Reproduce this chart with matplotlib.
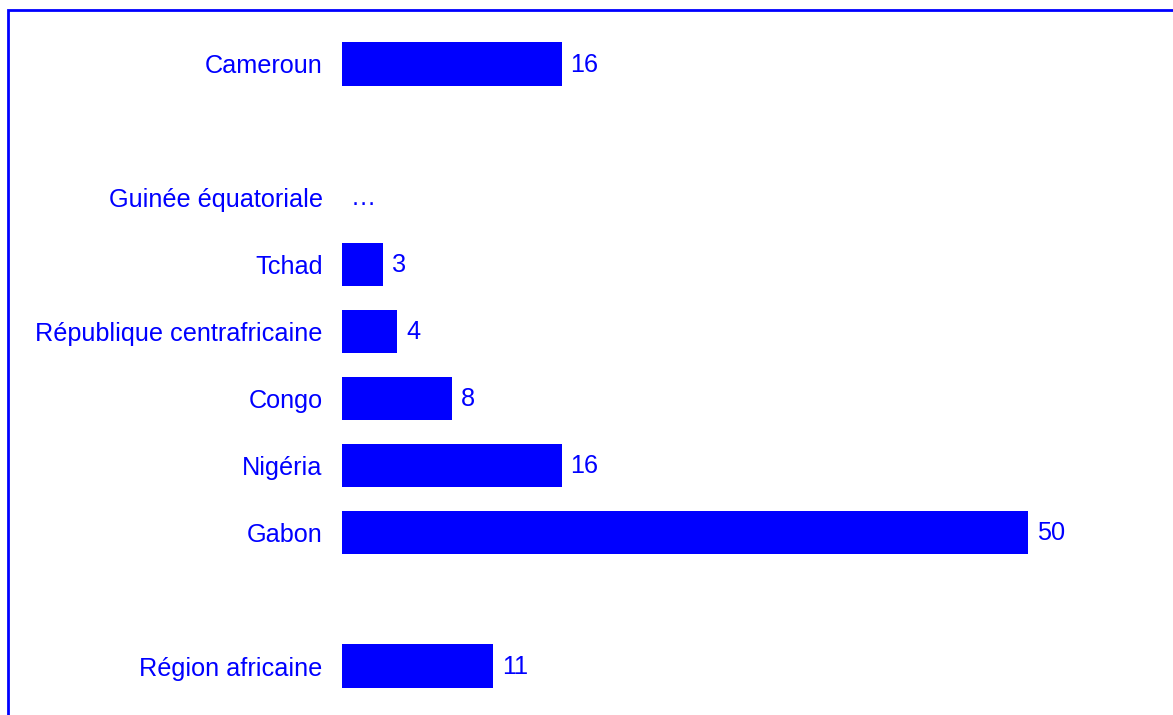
import matplotlib
matplotlib.use("Agg")
import matplotlib.pyplot as plt
from matplotlib.patches import Rectangle

# donnees (None = valeur non disponible)
pays = ["Cameroun", "", "Guinée équatoriale", "Tchad", "République centrafricaine",
        "Congo", "Nigéria", "Gabon", "", "Région africaine"]
valeurs = [16, None, None, 3, 4, 8, 16, 50, None, 11]
etiquettes = ["16", "", "…", "3", "4", "8", "16", "50", "", "11"]

bleu = "#0000FF"
taille = 18.2
plt.rcParams['font.family'] = ['Liberation Sans', 'DejaVu Sans']

W, H = 1173, 715
fig = plt.figure(figsize=(W / 100, H / 100), dpi=100)
ax = fig.add_axes([342 / W, 1 - 699.5 / H, (1028 - 342) / W, (699.5 - 30.5) / H])

pos = list(range(len(pays)))
for i, v in enumerate(valeurs):
    if v is not None:
        ax.barh(i, v, height=0.65, color=bleu)
    if etiquettes[i]:
        ax.annotate(etiquettes[i], xy=(v if v else 0, i), xytext=(6.5, -0.5),
                    textcoords="offset points", va="center", ha="left",
                    color=bleu, fontsize=taille)

ax.set_xlim(0, 50)
ax.set_ylim(len(pays) - 0.5, -0.5)
ax.set_yticks(pos)
ax.set_yticklabels(pays, fontsize=taille, color=bleu)
ax.tick_params(axis="y", length=0, pad=14)
ax.set_xticks([])
for s in ax.spines.values():
    s.set_visible(False)

# cadre bleu autour du graphique
fig.patches.append(Rectangle((7.5 / W, -0.1), 1.2, 1 - 9.5 / H + 0.1,
                             transform=fig.transFigure, fill=False,
                             edgecolor=bleu, linewidth=2.0, clip_on=False))

plt.savefig("out.png", dpi=100)
plt.close('all')
